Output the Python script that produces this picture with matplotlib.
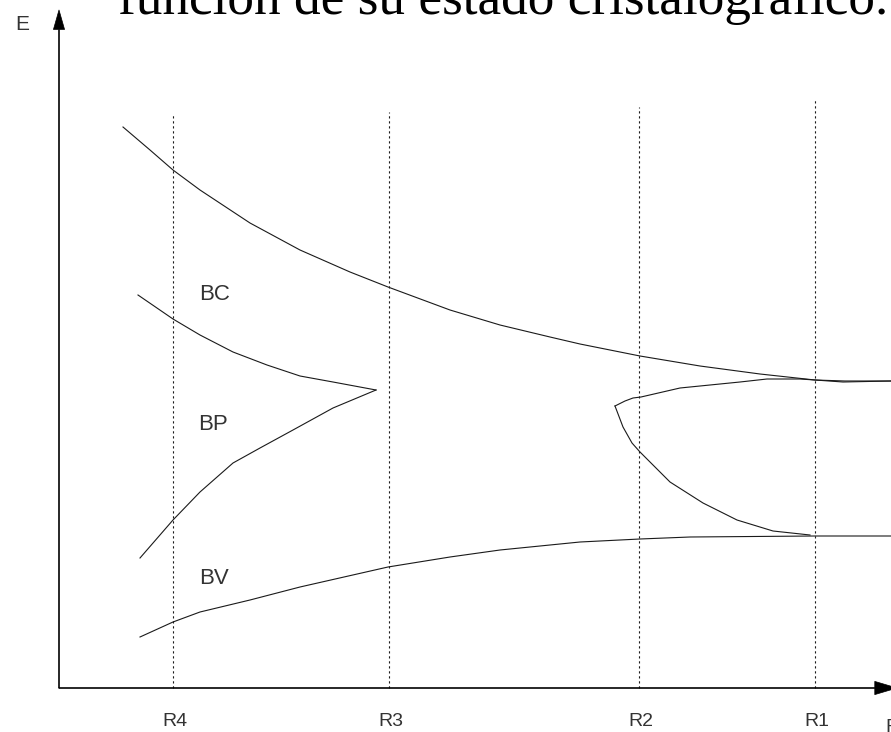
import matplotlib
matplotlib.use("Agg")
import matplotlib.pyplot as plt

# --- DATA ---
# r: distance between atoms, E: energy (arbitrary units, origin at the axes corner)
bc_r = [64, 91, 114, 141, 191, 241, 291, 329, 391, 441, 491, 521, 581, 641, 701, 756, 786, 832]
bc_e = [561, 538, 518, 498, 465, 438, 416, 401, 378, 363, 351, 344, 332, 322, 314, 308, 307, 307]

# BP branches near R3 (upper and lower)
bp_left_up_r = [79, 114, 141, 174, 208, 241, 274, 317]
bp_left_up_e = [393, 369, 353, 336, 323, 312, 306, 298]
bp_left_lo_r = [317, 274, 234, 201, 174, 141, 114, 81]
bp_left_lo_e = [298, 280, 258, 240, 225, 196, 168, 130]

# BP branches near R2 / R1
bp_right_up_r = [556, 566, 574, 582, 621, 681, 708, 741, 756, 784, 832]
bp_right_up_e = [282, 287, 290, 291, 300, 306, 309, 309, 308, 306, 307]
bp_right_lo_r = [556, 564, 573, 581, 611, 644, 678, 714, 751]
bp_right_lo_e = [282, 261, 245, 236, 206, 185, 168, 157, 153]

bv_r = [81, 114, 141, 191, 241, 329, 391, 441, 521, 581, 631, 756, 832]
bv_e = [51, 66, 76, 88, 101, 121, 131, 138, 146, 149, 151, 152, 152]

# Characteristic distances
radii_names = ['R4', 'R3', 'R2', 'R1']
radii_pos = [114, 330, 580, 756]
radii_top = [574, 576, 581, 589]

band_names = ['BC', 'BP', 'BV']
band_label_r = [156, 154, 155]
band_label_e = [394, 264, 110]

title = "función de su estado cristalográfico."

# --- FIGURE ---
fig = plt.figure(figsize=(8.91, 7.32), dpi=100)
ax = fig.add_axes([0, 0, 1, 1])
ax.set_xlim(-59, 832)
ax.set_ylim(-44, 688)
ax.axis('off')

line_col = '#1a1a1a'
text_col = '#333333'

# dotted verticals at each radius
for name, r, top in zip(radii_names, radii_pos, radii_top):
    ax.plot([r, r], [0, top], color=line_col, lw=0.8, linestyle=(0, (2, 2.5)))

# energy bands
ax.plot(bc_r, bc_e, color=line_col, lw=0.8)
ax.plot(bp_left_up_r, bp_left_up_e, color=line_col, lw=0.8)
ax.plot(bp_left_lo_r, bp_left_lo_e, color=line_col, lw=0.8)
ax.plot(bp_right_up_r, bp_right_up_e, color=line_col, lw=0.8)
ax.plot(bp_right_lo_r, bp_right_lo_e, color=line_col, lw=0.8)
ax.plot(bv_r, bv_e, color=line_col, lw=0.8)

# axes with arrow heads
ax.annotate('', xy=(0, 678), xytext=(0, 0), annotation_clip=False,
            arrowprops=dict(width=0.6, headwidth=8, headlength=14,
                            facecolor='black', edgecolor='black', lw=0.5, shrink=0))
ax.annotate('', xy=(838, 0), xytext=(0, 0), annotation_clip=False,
            arrowprops=dict(width=0.6, headwidth=9.5, headlength=16,
                            facecolor='black', edgecolor='black', lw=0.5, shrink=0))

# labels
for name, r in zip(radii_names, radii_pos):
    ax.text(r + 2, -34, name, ha='center', va='center', fontsize=14,
            family='Liberation Sans', color=text_col)
ax.text(826, -39, 'R', ha='left', va='center', fontsize=14,
        family='Liberation Sans', color=text_col)
ax.text(-37, 664, 'E', ha='center', va='center', fontsize=15,
        family='Liberation Sans', color=text_col)

for name, r, e in zip(band_names, band_label_r, band_label_e):
    ax.text(r, e, name, ha='center', va='center', fontsize=16,
            family='Liberation Sans', color=text_col)

# heading, right end sits just inside the frame
ax.text(829, 674, title, ha='right', va='baseline', fontsize=38.3,
        family='Liberation Serif', color='black')

fig.savefig('out.png', dpi=100)
